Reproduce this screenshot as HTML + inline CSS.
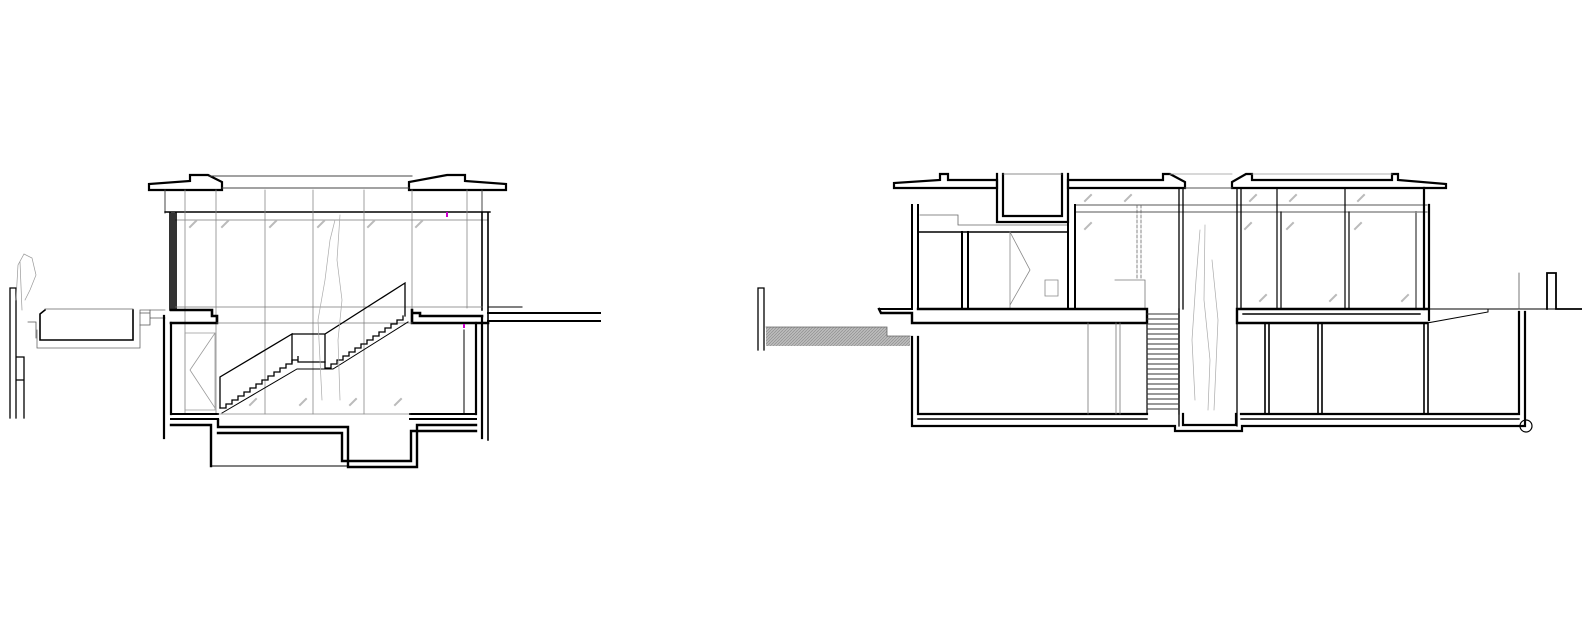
<!DOCTYPE html>
<html><head><meta charset="utf-8"><style>html,body{margin:0;padding:0;background:#fff}svg{display:block}</style></head>
<body>
<svg width="1582" height="620" viewBox="0 0 1582 620" xmlns="http://www.w3.org/2000/svg">
<defs>
<pattern id="h" width="3" height="3" patternUnits="userSpaceOnUse"><rect width="3" height="3" fill="#bbb"/><path d="M0 3L3 0" stroke="#888" stroke-width="0.6"/></pattern>
</defs>
<g fill="none" stroke="#000" stroke-linecap="square">
<!-- ===== LEFT SECTION ===== -->
<path d="M10 288V418M16 288V418M10 288H16M16 357H24V418M16 380H24" stroke-width="1.3"/>
<path d="M16 300 L18 265 L24 254 L32 258 L36 275 L30 290 L25 300 M20 262 L22 310" stroke="#999" stroke-width="0.7"/>
<path d="M45 310 L40 314 V340 H133 V310" stroke-width="1.6"/>
<path d="M45 309 H133 M37 330 V348 H140 V310 H165" stroke="#666" stroke-width="0.8"/>
<path d="M28 322 H36 V338 M140 313 H150 V325 H140 M150 310 V318 H165" stroke="#555" stroke-width="0.8"/>
<!-- roof -->
<path d="M149 190 V184 L190 181 V175 H208 L222 182 V190 Z" stroke-width="2.2"/>
<path d="M506 190 V184 L465 181 V175 H447 L409 182 V190 Z" stroke-width="2.2"/>
<path d="M210 176 H412 M222 188 H409" stroke="#444" stroke-width="1"/>
<path d="M165 190 V213 M482 190 V213" stroke="#444" stroke-width="1"/>
<path d="M165 212 H490" stroke-width="1.4"/>
<path d="M175 220 H488" stroke="#777" stroke-width="0.8"/>
<path d="M185 190V414 M216 190V414 M265 190V414 M313 190V414 M364 190V414 M412 190V310 M467 190V308" stroke="#888" stroke-width="0.8"/>
<path d="M170 213 V310 M176 213 V310" stroke-width="1.6"/>
<rect x="171" y="213" width="4" height="96" fill="#333" stroke="none"/>
<path d="M482 213 V310 M488 213 V440" stroke-width="1.6"/>
<!-- slabs -->
<path d="M171 310 H212 V316 H217 V323 H171" stroke-width="2.6"/>
<path d="M412 310 V323 H488 M412 313 H420 V316 H482" stroke-width="2.6"/>
<path d="M488 313 H600 M488 321 H600" stroke-width="2"/>
<path d="M488 307 H522" stroke-width="1"/>
<path d="M176 307 H482 M217 323 H412" stroke="#777" stroke-width="0.8"/>
<!-- lower walls -->
<path d="M164 316 V438 M171 323 V414" stroke-width="2.2"/>
<path d="M476 323 V414 M482 318 V438" stroke-width="2.2"/>
<path d="M171 414 H218 M410 414 H476 M171 419 H218 M410 419 H476" stroke-width="2"/>
<path d="M218 414 H410" stroke="#888" stroke-width="0.8"/>
<!-- basement pit -->
<path d="M171 425 H211 V466" stroke-width="2.4"/>
<path d="M218 420 V427 H348 V467 H417 V425 H476" stroke-width="2.4"/>
<path d="M218 433 H342 V461 H411 V431 H476" stroke-width="2.4"/>
<path d="M211 466 H348" stroke-width="1"/>
<path d="M464 330 V414" stroke-width="1"/>
<rect x="463" y="324" width="2" height="4" fill="#c0c" stroke="none"/>
<rect x="446" y="212" width="2" height="5" fill="#c0c" stroke="none"/>
<path d="M185 333 H215 V410 H185 Z M215 333 L190 370 L215 408" stroke="#999" stroke-width="0.8"/>
<!-- stairs -->
<path d="M220 408 l6 0 0 -4 6 0 0 -4 6 0 0 -4 6 0 0 -4 6 0 0 -4 6 0 0 -4 6 0 0 -4 6 0 0 -4 6 0 0 -4 6 0 0 -4 6 0 0 -4 6 0 0 -4 6 0 0 -4 V362 H325 V368 l6 0 0 -4 6 0 0 -4 6 0 0 -4 6 0 0 -4 6 0 0 -4 6 0 0 -4 6 0 0 -4 6 0 0 -4 6 0 0 -4 6 0 0 -4 6 0 0 -4 6 0 0 -4 6 0 0 -4 V316" stroke-width="1.3"/>
<path d="M220 408 V377 L292 334 V362 M292 334 H325 V362 M325 334 L405 283 V316" stroke-width="1.3"/>
<path d="M222 413 L297 369 H333 L408 322" stroke-width="1"/>
<path d="M320 360 L318 320 L325 280 L330 240 L335 220 M340 215 L337 260 L342 300 L338 340 L340 400 M322 400 L320 360" stroke="#aaa" stroke-width="0.7"/>
<g stroke="#bbb" stroke-width="2">
<path d="M190 227l6 -6M222 227l6 -6M270 227l6 -6M318 227l6 -6M368 227l6 -6M416 227l6 -6M300 405l6 -6M350 405l6 -6M395 405l6 -6M250 405l6 -6"/>
</g>

<!-- ===== RIGHT SECTION ===== -->
<path d="M758 288 V350 M764 288 V350 M758 288 H764" stroke-width="1.3"/>
<path d="M766 327 H887 V336 H910 V346 H766 Z" fill="url(#h)" stroke="none"/>
<path d="M766 327 H887 V336 H910" stroke="#666" stroke-width="0.8"/>
<path d="M894 188 V183 L940 180 V174 H948 V180 H997 V188 Z" stroke-width="2.2"/>
<path d="M997 174 V222 H1068 V174 M1003 174 V216 H1062 V174" stroke-width="2.2"/>
<path d="M1003 174 H1062" stroke="#666" stroke-width="0.8"/>
<path d="M1068 188 V180 H1163 V174 H1170 L1185 182 V188 Z" stroke-width="2.2"/>
<path d="M1232 188 V182 L1246 174 H1252 V180 H1392 V174 H1398 V180 L1446 184 V188 Z" stroke-width="2.2"/>
<path d="M1185 188 H1232 M1075 205 H1427 M1075 212 H1427" stroke="#555" stroke-width="0.9"/>
<path d="M1252 174 H1392 M1170 174 H1232" stroke="#999" stroke-width="0.8"/>
<path d="M912 205 V309 M918 205 V309" stroke-width="2"/>
<path d="M962 232 V309 M968 232 V309" stroke-width="2"/>
<path d="M918 232 H1068" stroke-width="1.6"/>
<path d="M920 215 H958 V225 M958 225 H1068" stroke="#666" stroke-width="0.8"/>
<path d="M1010 232 L1030 270 L1010 305 M1010 232 V309 M1045 280 H1058 V296 H1045 Z" stroke="#888" stroke-width="0.8"/>
<path d="M1068 205 V309 M1075 205 V309" stroke-width="2"/>
<path d="M1137 205 V280 M1141 205 V280" stroke="#666" stroke-width="0.8" stroke-dasharray="3 2"/>
<path d="M1115 280 H1145 V309" stroke="#777" stroke-width="0.8"/>
<path d="M1179 188 V426 M1183 188 V309 M1237 188 V426 M1241 188 V309" stroke-width="1.3"/>
<path d="M1277 188 V309 M1281 212 V309 M1345 188 V309 M1349 212 V309" stroke-width="1.2"/>
<path d="M1416 212 V309" stroke="#888" stroke-width="2"/>
<path d="M1424 188 V309 M1429 205 V320" stroke-width="2.2"/>
<path d="M879 309 L881 313 H912 V323 H1147 V309 H918" stroke-width="2.4"/>
<path d="M879 309 H912" stroke-width="2"/>
<path d="M1237 309 H1427 M1237 309 V323 H1427" stroke-width="2.4"/>
<path d="M1243 314 H1420" stroke-width="1.4"/>
<path d="M1427 309 H1560 M1427 323 L1488 312 V309" stroke-width="1"/>
<path d="M1519 273 V309" stroke="#555" stroke-width="0.8"/>
<path d="M1547 309 V273 H1556 V309 H1582" stroke-width="1.8"/>
<path d="M912 337 V426 H1175 V431 H1242 V426 H1525 V312 M918 337 V414 H1147 M1183 414 V425 H1236 V414 M1241 414 H1519 V312" stroke-width="2.2"/>
<path d="M918 419 H1147 M1241 419 H1519" stroke-width="1.4"/>
<path d="M1088 323 V414 M1116 323 V414 M1120 323 V414" stroke="#777" stroke-width="0.8"/>
<path d="M1265 323 V414 M1269 323 V414 M1318 323 V414 M1322 323 V414 M1424 323 V414 M1428 323 V414" stroke-width="1.6"/>
<circle cx="1526" cy="426" r="6" stroke-width="1.2"/>
<path d="M1147 309 V414 M1179 309 V414" stroke-width="1.2"/>
<path d="M1147 314H1179M1147 319H1179M1147 324H1179M1147 329H1179M1147 334H1179M1147 339H1179M1147 344H1179M1147 349H1179M1147 354H1179M1147 359H1179M1147 364H1179M1147 369H1179M1147 374H1179M1147 379H1179M1147 384H1179M1147 389H1179M1147 394H1179M1147 399H1179M1147 404H1179M1147 409H1179" stroke="#333" stroke-width="0.9"/>
<path d="M1195 400 L1192 340 L1196 280 L1200 230 M1205 225 L1204 300 L1210 360 L1208 410 M1212 260 L1218 320 L1214 410" stroke="#aaa" stroke-width="0.7"/>
<g stroke="#bbb" stroke-width="2">
<path d="M1085 201l6 -6M1125 201l6 -6M1085 229l6 -6M1250 201l6 -6M1290 201l6 -6M1358 201l6 -6M1245 229l6 -6M1287 229l6 -6M1355 229l6 -6M1260 301l6 -6M1330 301l6 -6M1402 301l6 -6"/>
</g>
</g>
</svg>
</body></html>
